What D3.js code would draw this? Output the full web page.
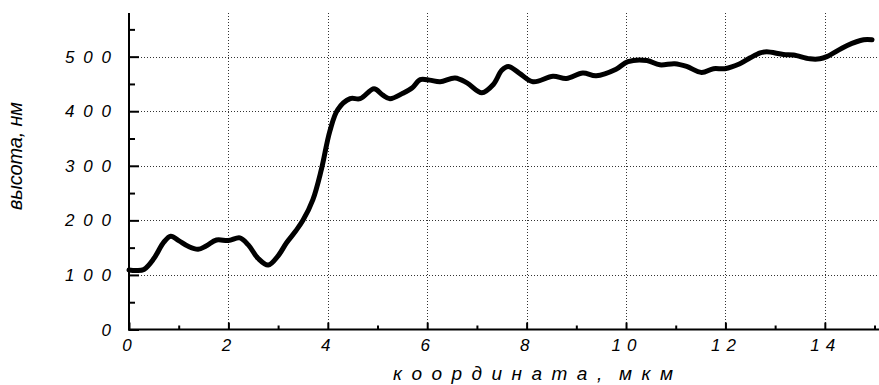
<!DOCTYPE html>
<html>
<head>
<meta charset="utf-8">
<script src="https://cdn.jsdelivr.net/npm/d3@7"></script>
<style>
  body { margin: 0; background: #fff; }
  svg { display: block; }
  text { font-family: "Liberation Sans", Arial, sans-serif; font-style: italic; fill: #000; white-space: pre; }
</style>
</head>
<body>
<div id="chart"></div>
<script>
// profile: coordinate (um) and height (nm)
const coordUm = [0, 0.15, 0.3, 0.5, 0.7, 0.84, 1.0, 1.2, 1.39, 1.55, 1.76, 2.0, 2.23, 2.4, 2.6, 2.8, 3.0, 3.17, 3.35, 3.5, 3.7, 3.87, 4.04, 4.2, 4.45, 4.65, 4.93, 5.1, 5.25, 5.51, 5.7, 5.86, 6.05, 6.26, 6.56, 6.8, 7.1, 7.33, 7.5, 7.63, 7.85, 8.13, 8.53, 8.8, 9.13, 9.4, 9.8, 10.04, 10.42, 10.68, 10.98, 11.22, 11.52, 11.76, 11.99, 12.29, 12.5, 12.7, 12.83, 13.17, 13.37, 13.7, 13.9, 14.04, 14.44, 14.78, 14.95]
const heightNm = [109, 108, 110, 130, 160, 171, 163, 152, 147, 153, 164, 163, 168, 155, 130, 118, 135, 159, 180, 200, 238, 293, 363, 403, 423, 423, 441, 430, 423, 433, 443, 458, 457, 454, 461, 452, 434, 449, 475, 482, 470, 454, 464, 460, 470, 465, 477, 491, 493, 485, 487, 482, 471, 478, 478, 487, 498, 507, 509, 504, 503, 496, 496, 500, 520, 531, 531]

const xTicks = [0, 2, 4, 6, 8, 10, 12, 14]
const xMinorTicks = [1, 3, 5, 7, 9, 11, 13, 15]
const yTicks = [0, 100, 200, 300, 400, 500]
const yMinorTicks = [50, 150, 250, 350, 450, 550]

const xTitle = 'к о о р д и н а т а ,  м к м'
const yTitle = 'высота, нм'

const W = 879, H = 385
const spaced = d => String(d).split('').join(' ')
// stretch multi-digit labels the way the original spaces them out
const labelWidth = d => String(d).length === 1 ? null : (String(d).length - 1) * 18 + 10

const svg = d3.select('#chart').append('svg')
  .attr('width', W)
  .attr('height', H)

const x = d3.scaleLinear().domain([0, 15.1]).range([129, 879.5])
const y = d3.scaleLinear().domain([0, 580]).range([329.5, 13])

// GRID
svg.append('g').selectAll('line')
  .data(yTicks.filter(d => d > 0))
  .join('line')
  .attr('x1', x(0)).attr('x2', W)
  .attr('y1', d => Math.round(y(d)) + 0.5).attr('y2', d => Math.round(y(d)) + 0.5)
  .attr('stroke', '#333').attr('stroke-width', 1).attr('stroke-dasharray', '1,2')

svg.append('g').selectAll('line')
  .data(xTicks.filter(d => d > 0))
  .join('line')
  .attr('x1', d => Math.round(x(d)) + 0.5).attr('x2', d => Math.round(x(d)) + 0.5)
  .attr('y1', y(580)).attr('y2', y(0))
  .attr('stroke', '#333').attr('stroke-width', 1).attr('stroke-dasharray', '1,2')

// AXES (ticks point inward)
const yAxis = d3.axisRight(y).tickValues(yTicks).tickSize(10).tickFormat('')
const yMinor = d3.axisRight(y).tickValues(yMinorTicks).tickSize(6).tickFormat('')
const xAxis = d3.axisTop(x).tickValues(xTicks).tickSize(7).tickFormat('')
const xMinor = d3.axisTop(x).tickValues(xMinorTicks).tickSize(4).tickFormat('')

const styleAxis = g => {
  g.select('.domain').remove()
  g.selectAll('line').attr('stroke', '#000').attr('stroke-width', 2)
}

svg.append('g').attr('transform', `translate(${x(0)},0)`).call(yAxis).call(styleAxis)
svg.append('g').attr('transform', `translate(${x(0)},0)`).call(yMinor).call(styleAxis)
svg.append('g').attr('transform', `translate(0,${y(0)})`).call(xAxis).call(styleAxis)
svg.append('g').attr('transform', `translate(0,${y(0)})`).call(xMinor).call(styleAxis)

svg.append('line')
  .attr('x1', x(0)).attr('x2', x(0))
  .attr('y1', y(580)).attr('y2', y(0) + 1)
  .attr('stroke', '#000').attr('stroke-width', 2)
svg.append('line')
  .attr('x1', x(0) - 1).attr('x2', W)
  .attr('y1', y(0)).attr('y2', y(0))
  .attr('stroke', '#000').attr('stroke-width', 2)

// TICK LABELS
svg.append('g').selectAll('text')
  .data(yTicks)
  .join('text')
  .attr('font-size', 17)
  .attr('x', 111)
  .attr('y', d => y(d) + 6)
  .attr('text-anchor', 'end')
  .attr('textLength', labelWidth)
  .attr('lengthAdjust', 'spacing')
  .text(spaced)

svg.append('g').selectAll('text')
  .data(xTicks)
  .join('text')
  .attr('font-size', 17)
  .attr('x', d => x(d) - 2)
  .attr('y', 351)
  .attr('text-anchor', 'middle')
  .attr('textLength', d => String(d).length === 1 ? null : 25)
  .attr('lengthAdjust', 'spacing')
  .text(spaced)

// TITLES
svg.append('text')
  .attr('font-size', 20)
  .attr('transform', `translate(22,156) rotate(-90)`)
  .attr('text-anchor', 'middle')
  .attr('textLength', 108)
  .attr('lengthAdjust', 'spacing')
  .text(yTitle)

svg.append('text')
  .attr('font-size', 19)
  .attr('x', 533)
  .attr('y', 380)
  .attr('text-anchor', 'middle')
  .attr('textLength', 280)
  .attr('lengthAdjust', 'spacing')
  .text(xTitle)

// PROFILE
const points = coordUm.map((c, i) => [c, heightNm[i]])
svg.append('path')
  .datum(points)
  .attr('fill', 'none')
  .attr('stroke', '#000')
  .attr('stroke-width', 5)
  .attr('stroke-linecap', 'round')
  .attr('stroke-linejoin', 'round')
  .attr('d', d3.line().x(d => x(d[0])).y(d => y(d[1])).curve(d3.curveCatmullRom.alpha(0.5)))
</script>
</body>
</html>
